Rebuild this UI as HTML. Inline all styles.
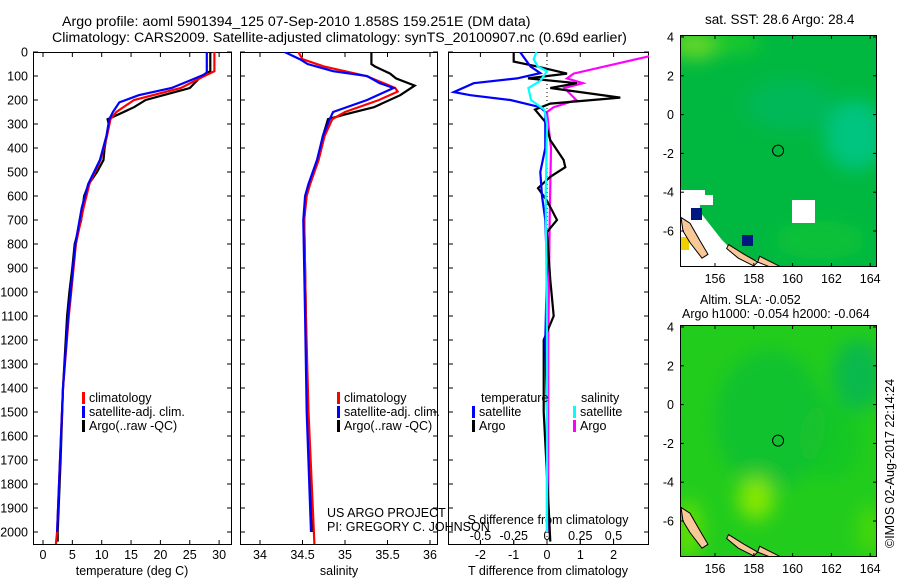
<!DOCTYPE html>
<html><head><meta charset="utf-8"><style>
body{margin:0;background:#fff}
svg{display:block;font-family:"Liberation Sans",sans-serif;font-size:12.5px}
</style></head><body>
<svg id="c" width="900" height="580">
<defs>
<filter id="blur" x="-50%" y="-50%" width="200%" height="200%"><feGaussianBlur stdDeviation="9"/></filter>
</defs>
<g id="maps"></g>
<g id="plots"></g>
<g>
<text x="62" y="26" style="font-size:14.2px">Argo profile: aoml 5901394_125 07-Sep-2010 1.858S 159.251E (DM data)</text>
<text x="52" y="42" style="font-size:14.2px">Climatology: CARS2009. Satellite-adjusted climatology: synTS_20100907.nc (0.69d earlier)</text>
<text x="705" y="24" style="font-size:13.5px">sat. SST: 28.6 Argo: 28.4</text>
<text x="700" y="304">Altim. SLA: -0.052</text>
<text x="682" y="318">Argo h1000: -0.054 h2000: -0.064</text>
<text transform="translate(894,548) rotate(-90)">©IMOS 02-Aug-2017 22:14:24</text>
<text x="327" y="517">US ARGO PROJECT</text>
<text x="327" y="531">PI: GREGORY C. JOHNSON</text>
</g>
</svg>
<script>
// ---- data ----
const depthTicks=[0,100,200,300,400,500,600,700,800,900,1000,1100,1200,1300,1400,1500,1600,1700,1800,1900,2000];
const tTicks=[0,5,10,15,20,25,30];
const sTicks=[34,34.5,35,35.5,36];
const sTickLabels=['34','34.5','35','35.5','36'];
const dTTicks=[-2,-1,0,1,2];
const dSTicks=[-0.5,-0.25,0,0.25,0.5];
const dSTickLabels=['-0.5','-0.25','0','0.25','0.5'];

const tClimD=[0,80,100,150,200,250,280,350,450,550,650,800,1000,1100,1400,1700,2000,2050];
const tClimV=[29.2,29.2,27.5,23.5,15.5,12.5,11.5,10.9,9.8,7.9,6.9,5.6,4.8,4.4,3.4,2.9,2.4,2.2];
const tSatD=[0,85,95,117,150,180,210,250,280,350,450,550,650,800,1000,1100,1400,1700,2000];
const tSatV=[27.9,27.9,27.4,25.2,21.9,16.3,13,11.9,11.3,10.8,9.7,7.7,6.6,5.5,4.7,4.3,3.4,2.9,2.4];
const tArgD=[0,80,100,150,180,200,230,270,280,300,400,450,500,550,600,700,800,900,1000,1100,1400,1700,2000,2040];
const tArgV=[28.5,28.5,27.0,25,20.5,17.5,15.5,12,11,11.2,10.5,10.3,9.2,7.8,7,6.5,5.4,5.0,4.5,4.1,3.4,3.0,2.5,2.5];

const sClimD=[0,30,60,100,150,165,200,250,280,350,450,550,600,700,1100,1500,2050];
const sClimV=[34.45,34.5,34.75,35.25,35.59,35.62,35.4,35.0,34.85,34.76,34.69,34.59,34.55,34.52,34.54,34.57,34.64];
const sSatD=[0,30,50,80,100,130,150,200,250,280,350,450,550,600,700,1100,1500,2000];
const sSatV=[34.29,34.47,34.56,34.86,35.26,35.41,35.57,35.26,34.86,34.82,34.74,34.67,34.57,34.53,34.51,34.53,34.55,34.6];
const sArgD=[0,50,60,90,110,140,180,230,260,280,350,450,550,600,700,1100,1500,2000];
const sArgV=[35.31,35.31,35.35,35.53,35.6,35.82,35.65,35.34,35.0,34.8,34.74,34.68,34.58,34.54,34.52,34.54,34.56,34.61];

const dTSatD=[0,60,88,110,130,167,180,200,230,250,400,500,600,700,900,1200,1500,2000];
const dTSatV=[-0.81,-0.5,-0.2,-0.9,-2.2,-2.8,-2.3,-1.1,-0.2,-0.05,-0.05,-0.2,-0.15,-0.05,0,-0.05,0,0];
const dTArgD=[0,40,60,90,110,130,150,190,215,240,290,367,450,480,520,567,620,700,750,950,1100,1200,1500,1900,2040];
const dTArgV=[-1.0,-1.0,-0.3,0.6,-0.57,0.9,0.1,2.2,0.1,-0.36,-0.06,0.1,0.5,0.55,0.1,-0.27,0,0.3,0,0.1,0.2,-0.1,-0.1,0.05,0.1];
const dSArgD=[0,20,90,110,130,150,200,230,250,400,700,1200,2000];
const dSArgV=[0.9,0.75,0.2,0.15,0.27,0.13,0.22,0.05,0,0.03,0.02,0.01,0.01];
const dSSatD=[0,30,60,80,120,150,200,240,300,600,1200,2000];
const dSSatV=[-0.08,-0.1,-0.07,0,-0.05,-0.14,-0.12,-0.02,0,-0.01,0,0];

// ---- scales ----
const Y0=52,Y1=545;
const yD=d=>Y0+d*0.24;
const xT=v=>43+v*5.87;
const xS=v=>260+(v-34)*85;
const xDT=v=>547+v*33.3;
const xDS=v=>547+v*133;
const NS='http://www.w3.org/2000/svg';
const plots=document.getElementById('plots');
function mk(tag,attrs,parent){const e=document.createElementNS(NS,tag);for(const k in attrs)e.setAttribute(k,attrs[k]);(parent||plots).appendChild(e);return e;}

const panels=[[33,232,'temperature-panel'],[240,438,'salinity-panel'],[448,649,'difference-panel']];
panels.forEach(p=>{
  const g=mk('g',{});
  
  
  const cp=mk('clipPath',{id:'cp-'+p[2]},g);
  mk('rect',{x:p[0],y:Y0,width:p[1]-p[0],height:Y1-Y0},cp);
  depthTicks.forEach(d=>{
    const t1=mk('line',{x1:p[0],x2:p[0]+5,y1:yD(d),y2:yD(d),stroke:'#000'},g);
    
    
    const t2=mk('line',{x1:p[1]-5,x2:p[1],y1:yD(d),y2:yD(d),stroke:'#000'},g);
    
    
  });
  const fr=mk('rect',{x:p[0]+0.5,y:Y0+0.5,width:p[1]-p[0]-1,height:Y1-Y0-1,fill:'none',stroke:'#000'},g);
  
  
});
depthTicks.forEach(d=>{
  const t=mk('text',{x:28,y:yD(d)+4.5,'text-anchor':'end'});
  
  
  t.textContent=d;
});
function xticks(vals,labels,sc,x0,x1,name,ly,inside){
  vals.forEach((v,i)=>{
    const x=sc(v);
    const a=mk('line',{x1:x,x2:x,y1:Y1-5,y2:Y1,stroke:'#000'});
    
    
    if(!inside){const b=mk('line',{x1:x,x2:x,y1:Y0,y2:Y0+5,stroke:'#000'});
    
    }
    const t=mk('text',{x:x,y:ly,'text-anchor':'middle'});
    
    
    t.textContent=labels[i];
  });
}
xticks(tTicks,tTicks.map(String),xT,33,232,'temperature',559);
xticks(sTicks,sTickLabels,xS,240,438,'salinity',559);
xticks(dTTicks,dTTicks.map(String),xDT,448,649,'t-difference',559);
xticks(dSTicks,dSTickLabels,xDS,448,649,'s-difference',540,true);
[['temperature (deg C)',132,575,'temperature-axis-title'],['salinity',339,575,'salinity-axis-title'],['T difference from climatology',548,575,'t-difference-axis-title'],['S difference from climatology',548,524,'s-difference-axis-title']].forEach(a=>{
  const t=mk('text',{x:a[1],y:a[2],'text-anchor':'middle'});
  
  
  t.textContent=a[0];
});
const zl=mk('line',{x1:xDT(0),x2:xDT(0),y1:Y0,y2:Y1,stroke:'#000','stroke-dasharray':'1,3'});



function series(D,V,sc,color,name,clip){
  const pts=D.map((d,i)=>sc(V[i]).toFixed(1)+','+yD(d).toFixed(1)).join(' ');
  const pl=mk('polyline',{points:pts,fill:'none',stroke:color,'stroke-width':2.2,'clip-path':'url(#cp-'+clip+')'});
  
  
}
series(tArgD,tArgV,xT,'#000','temp-argo-line','temperature-panel');
series(tClimD,tClimV,xT,'#f00','temp-climatology-line','temperature-panel');
series(tSatD,tSatV,xT,'#00f','temp-satellite-line','temperature-panel');
series(sArgD,sArgV,xS,'#000','sal-argo-line','salinity-panel');
series(sClimD,sClimV,xS,'#f00','sal-climatology-line','salinity-panel');
series(sSatD,sSatV,xS,'#00f','sal-satellite-line','salinity-panel');
series(dSArgD,dSArgV,xDS,'#f0f','s-diff-argo-line','difference-panel');
series(dTArgD,dTArgV,xDT,'#000','t-diff-argo-line','difference-panel');
series(dTSatD,dTSatV,xDT,'#00f','t-diff-satellite-line','difference-panel');
series(dSSatD,dSSatV,xDS,'#0ff','s-diff-satellite-line','difference-panel');

function legend(x,y,color,label){
  const r=mk('rect',{x:x,y:y-10,width:3,height:12,fill:color});
  
  
  const t=mk('text',{x:x+7,y:y});
  
  
  t.textContent=label;
}
legend(82,402,'#f00','climatology');legend(82,416,'#00f','satellite-adj. clim.');legend(82,430,'#000','Argo(..raw -QC)');
legend(337,402,'#f00','climatology');legend(337,416,'#00f','satellite-adj. clim.');legend(337,430,'#000','Argo(..raw -QC)');
legend(472,416,'#00f','satellite');legend(472,430,'#000','Argo');
legend(573,416,'#0ff','satellite');legend(573,430,'#f0f','Argo');
[['temperature',481,402],['salinity',581,402]].forEach(a=>{const t=mk('text',{x:a[1],y:a[2]});


t.textContent=a[0];});

// ---- maps ----
const maps=document.getElementById('maps');
const lonTicks=[156,158,160,162,164];
const latTicks=[4,2,0,-2,-4,-6];
const floatLon=159.251, floatLat=-1.858;
const MX0=680,MX1=877;
const xL=l=>715+(l-156)*19.4;
function map(top,bottom,lat4y,name,blobs,white){
  const yL=l=>lat4y+(4-l)*19.4;
  const g=mk('g',{},maps);
  
  
  const cid='cp-'+name;
  const cp=mk('clipPath',{id:cid},g);
  mk('rect',{x:MX0,y:top,width:MX1-MX0,height:bottom-top},cp);
  const inner=mk('g',{'clip-path':'url(#'+cid+')'},g);
  mk('rect',{x:MX0,y:top,width:MX1-MX0,height:bottom-top,fill:blobs.base},inner);
  const bl=mk('g',{filter:'url(#blur)'},inner);
  blobs.items.forEach(b=>mk('ellipse',{cx:b[0],cy:b[1],rx:b[2],ry:b[3],fill:b[4],opacity:b[5]},bl));
  white.forEach(w=>mk('polygon',{points:w[0],fill:w[1]},inner));
  const isl=[[ '681,'+(yL(-5.3))+' 690,'+yL(-5.6)+' 700,'+yL(-6.5)+' 708,'+yL(-7.2)+' 702,'+yL(-7.4)+' 690,'+yL(-6.6)+' 683,'+yL(-6)],
    [xL(156.7)+','+yL(-6.7)+' '+xL(157.5)+','+yL(-7.2)+' '+xL(158.2)+','+yL(-7.6)+' '+xL(158)+','+yL(-7.8)+' '+xL(157.2)+','+yL(-7.4)+' '+xL(156.6)+','+yL(-6.9)],
    [xL(158.3)+','+yL(-7.3)+' '+xL(159.3)+','+yL(-7.8)+' '+xL(159.2)+','+yL(-8)+' '+xL(158.2)+','+yL(-7.6)]];
  isl.forEach(pp=>{const pg=mk('polygon',{points:pp,fill:'#f8c898',stroke:'#000','stroke-width':1},inner);
  
  });
  const c=mk('circle',{cx:xL(floatLon),cy:yL(floatLat),r:5.5,fill:'none',stroke:'#000'},g);
  
  
  const fr=mk('rect',{x:MX0+0.5,y:top+0.5,width:MX1-MX0-1,height:bottom-top-1,fill:'none',stroke:'#000'},g);
  
  
  lonTicks.forEach(l=>{
    mk('line',{x1:xL(l),x2:xL(l),y1:top,y2:top+4,stroke:'#000'},g);
    mk('line',{x1:xL(l),x2:xL(l),y1:bottom-4,y2:bottom,stroke:'#000'},g);
    const t=mk('text',{x:xL(l),y:bottom+16,'text-anchor':'middle'},g);
    
    
    t.textContent=l;
  });
  latTicks.forEach(l=>{
    mk('line',{x1:MX0,x2:MX0+4,y1:yL(l),y2:yL(l),stroke:'#000'},g);
    mk('line',{x1:MX1-4,x2:MX1,y1:yL(l),y2:yL(l),stroke:'#000'},g);
    const t=mk('text',{x:674,y:yL(l)+4.5,'text-anchor':'end'},g);
    
    
    t.textContent=l;
  });
}
map(35,267,37,'sst-map',{base:'#00b840',items:[[695,45,25,14,'#80e020',0.8],[735,42,25,10,'#30d820',0.6],[855,135,30,35,'#00c890',0.8],[790,105,45,25,'#00b870',0.5],[820,240,45,20,'#10c830',0.6]]},
 [['680,190 705,190 705,195 713,195 713,205 700,205 700,212 722,240 740,258 770,262 770,267 680,267','#fff'],['792,200 815,200 815,223 792,223','#fff'],['691,208 702,208 702,220 691,220','#001880'],['742,235 753,235 753,246 742,246','#001880'],['681,237 689,237 689,250 681,250','#f0d000']]);
map(325,557,327,'sla-map',{base:'#22cc1c',items:[[770,420,55,70,'#0cb840',0.5],[858,375,25,35,'#00b060',0.7],[756,498,18,22,'#90ea00',0.9],[688,530,14,30,'#70e400',0.8],[870,530,12,25,'#60e000',0.6],[830,440,30,40,'#10c030',0.4]]},[]);
</script>
</body></html>
